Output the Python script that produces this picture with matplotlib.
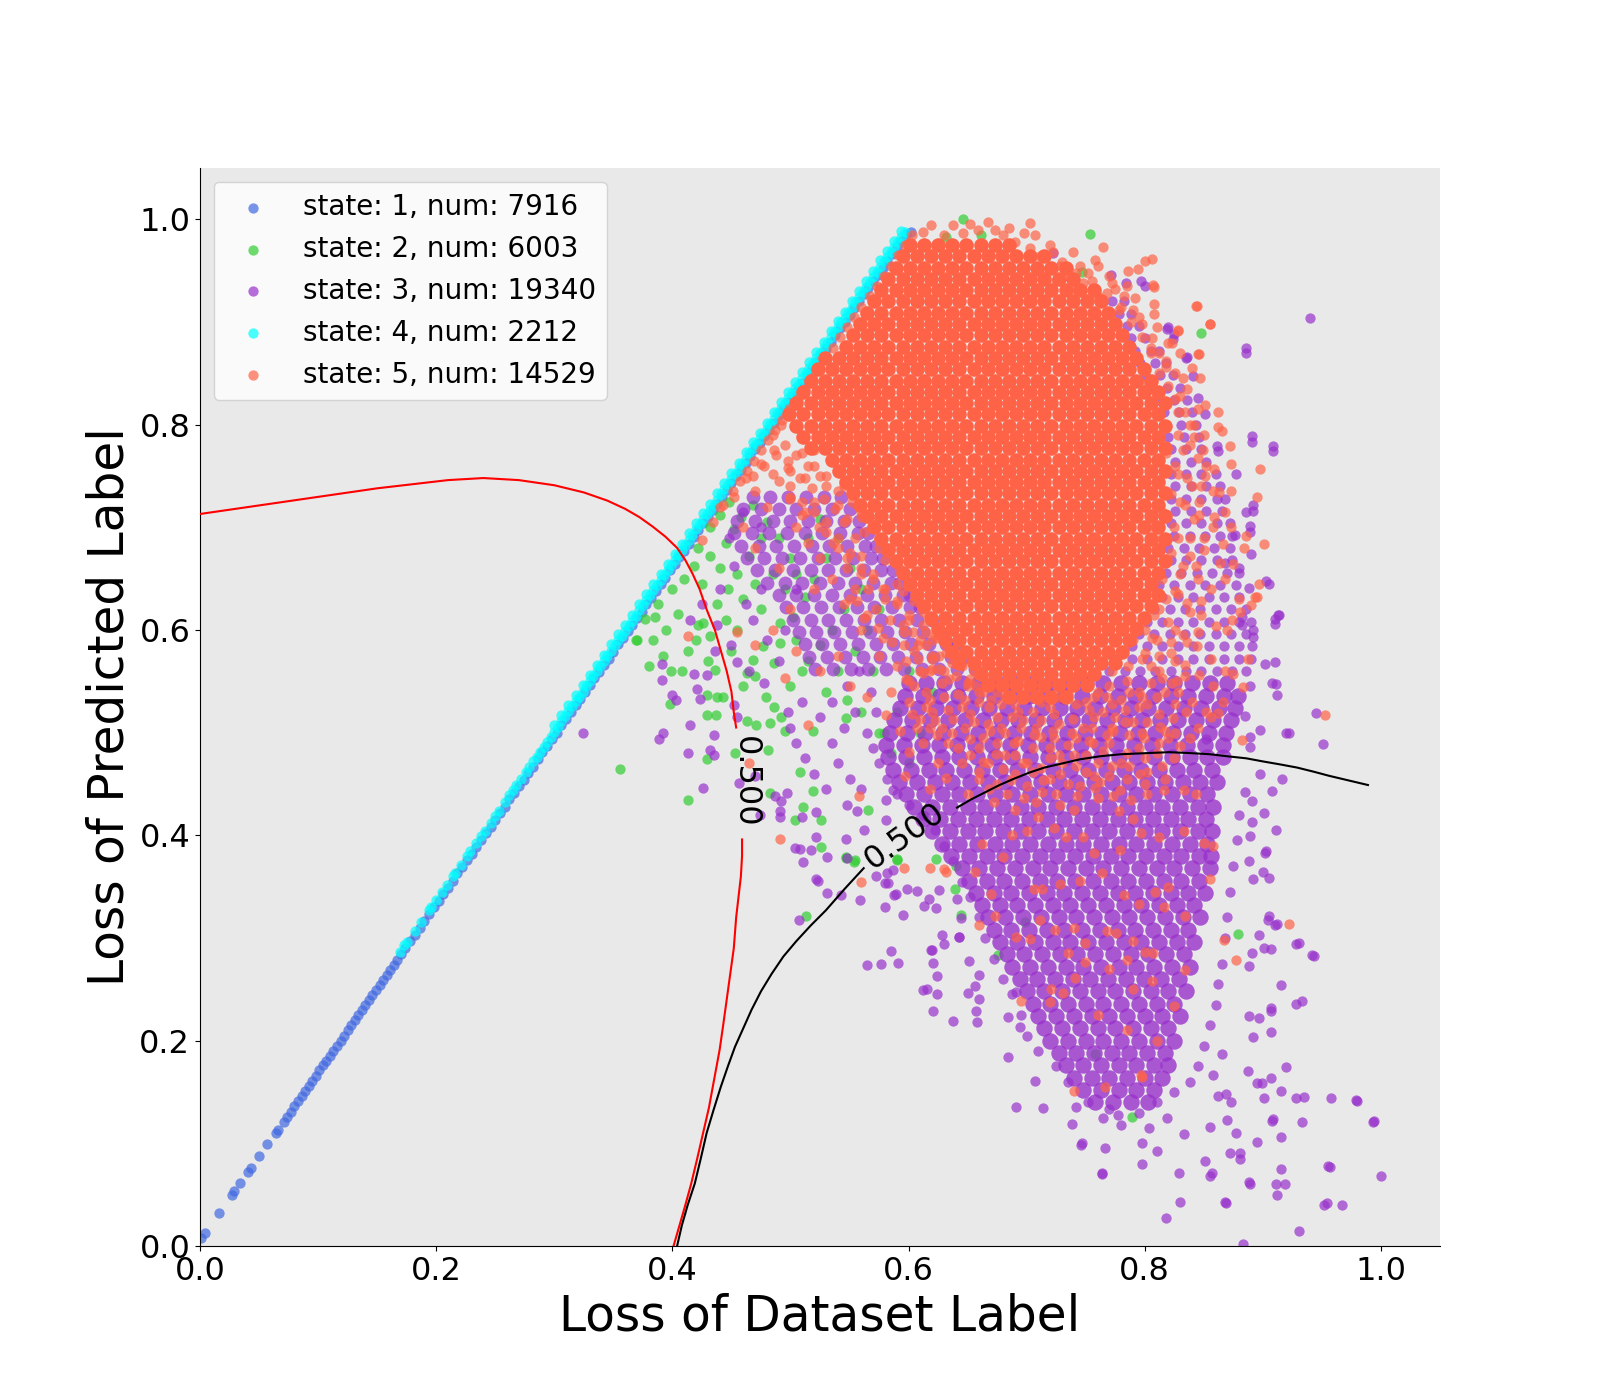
import numpy as np
import matplotlib
matplotlib.use("Agg")
import matplotlib.pyplot as plt

# ---------------- labels / colours ----------------
STATE_LABELS = ["state: 1, num: 7916", "state: 2, num: 6003", "state: 3, num: 19340",
                "state: 4, num: 2212", "state: 5, num: 14529"]
STATE_COLORS = ["royalblue", "limegreen", "darkorchid", "cyan", "tomato"]
X_LABEL = "Loss of Dataset Label"
Y_LABEL = "Loss of Predicted Label"
CONTOUR_LEVEL_TEXT = "0.500"

# ---------------- data (values in thousandths) ----------------
# state 1 (blue) points along the diagonal
BLUE_X = [1, 4, 16, 27, 29, 34, 41, 43, 50, 57, 64, 66, 71,
          74, 77, 80, 83, 86, 89, 92, 95, 98, 101, 104, 107, 110, 113, 116, 119, 122, 125, 128, 131,
          134, 137, 140, 143, 146, 149, 152, 155, 158, 161, 164, 167, 170,
          174, 178, 182, 186, 190, 194, 198, 202, 206, 210, 214, 218, 222, 226, 230, 234, 238, 242, 246, 250,
          254, 258, 262, 266, 270, 274, 278, 282, 286, 290, 294, 298, 302, 306, 310, 314, 318, 322, 326, 330,
          334, 338, 342, 346, 350, 354, 358, 362, 366, 370, 374, 378, 382, 386, 390, 394, 398, 402, 406, 410,
          414, 418, 422, 426, 430, 434, 438, 442, 446, 450, 454, 458, 462, 466, 470, 474, 478, 482, 486, 490,
          494, 498, 502, 506, 510, 514, 518, 522, 526, 530, 534, 538, 542, 546, 550, 554, 558, 562, 566, 570,
          574, 578, 582, 586, 590, 594, 598, 602]
BLUE_Y = [8, 13, 32, 50, 54, 61, 72, 76, 88, 99, 110, 113, 121,
          126, 131, 136, 141, 146, 151, 156, 161, 166, 171, 176, 180, 185, 190, 195, 200, 205, 210, 215, 220,
          225, 230, 235, 240, 244, 249, 254, 259, 264, 269, 274, 279, 284,
          290, 297, 303, 310, 317, 323, 330, 336, 343, 349, 356, 363, 369, 376, 382, 389, 395, 402, 408, 415,
          422, 428, 435, 441, 448, 454, 461, 467, 474, 481, 487, 494, 500, 507, 513, 520, 527, 533, 540, 546,
          553, 559, 566, 572, 579, 586, 592, 599, 605, 612, 618, 625, 631, 638, 645, 651, 658, 664, 671, 677,
          684, 691, 697, 704, 710, 717, 723, 730, 736, 743, 750, 756, 763, 769, 776, 782, 789, 795, 802, 809,
          815, 822, 828, 835, 841, 848, 855, 861, 868, 874, 881, 887, 894, 900, 907, 914, 920, 927, 933, 940,
          946, 953, 959, 966, 973, 979, 986, 988]

# state 4 (cyan) points along the diagonal
CYAN_X = [169, 173, 175, 182, 187, 194, 196, 200, 205, 209, 214, 216, 221, 226, 229, 234, 238, 241, 246, 250,
          253, 258, 262, 265, 268, 272, 276, 279, 282, 285, 288, 291, 294, 297,
          300, 303, 306, 309, 312, 315, 318, 321, 324, 327, 330, 333, 336, 339, 342, 345, 348, 351, 354, 357,
          360, 363, 366, 369, 372, 375, 378, 381, 384, 387, 390, 393, 396, 399, 402, 405, 408, 411, 414, 417,
          420, 423, 426, 429, 432, 435, 438, 441, 444, 447, 450, 453, 456, 459, 462, 465, 468, 471, 474, 477,
          480, 483, 486, 489, 492, 495, 498, 501, 504, 507, 510, 513, 516, 519, 522, 525, 528, 531, 534, 537,
          540, 543, 546, 549, 552, 555, 558, 561, 564, 567, 570, 573, 576, 579, 582, 585, 588, 591, 594, 597,
          300, 306, 312, 318, 324, 330, 336, 342, 348, 354, 360, 366, 372, 378, 384, 390, 396, 402, 408, 414,
          420, 426, 432, 438, 444, 450, 456, 462, 468, 474, 480, 486, 492, 498, 504, 510, 516, 522, 528, 534,
          540, 546, 552, 558, 564, 570, 576, 582, 588, 594]
CYAN_Y = [286, 293, 296, 307, 316, 327, 330, 337, 345, 352, 360, 363, 371, 380, 385, 393, 399, 404, 412, 419,
          424, 432, 439, 444, 449, 455, 462, 467, 472, 476, 481, 486, 491, 496,
          501, 506, 511, 516, 521, 526, 531, 535, 540, 545, 550, 555, 560, 565, 570, 575, 580, 585, 590, 594,
          599, 604, 609, 614, 619, 624, 629, 634, 639, 644, 649, 654, 658, 663, 668, 673, 678, 683, 688, 693,
          698, 703, 708, 713, 717, 722, 727, 732, 737, 742, 747, 752, 757, 762, 767, 772, 777, 781, 786, 791,
          796, 801, 806, 811, 816, 821, 826, 831, 836, 840, 845, 850, 855, 860, 865, 870, 875, 880, 885, 890,
          895, 900, 904, 909, 914, 919, 924, 929, 934, 939, 944, 949, 954, 959, 963, 968, 973, 978, 983, 988,
          507, 517, 527, 537, 546, 556, 566, 576, 586, 596, 605, 615, 625, 635, 645, 655, 664, 674, 684, 694,
          704, 714, 723, 733, 743, 753, 763, 773, 783, 792, 802, 812, 822, 832, 842, 851, 861, 871, 881, 891,
          901, 910, 920, 930, 940, 950, 960, 969, 979, 989]

# state 2 (green) points, flat (x, y) pairs
GREEN_PTS = [370, 590, 384, 590, 385, 613, 399, 560, 408, 560, 398, 528, 413, 580, 422, 605, 429, 537, 437, 517,
             429, 517, 438, 535, 443, 535, 436, 561, 405, 616, 356, 465, 413, 434, 429, 474, 453, 480, 481, 483,
             483, 441, 508, 462, 519, 443, 526, 415, 504, 415, 511, 428, 566, 425, 547, 378, 555, 376, 526, 389,
             471, 507, 483, 509, 492, 515, 495, 502, 519, 502, 463, 511, 479, 535, 486, 525, 468, 571, 463, 558,
             477, 584, 486, 568, 491, 587, 432, 594, 426, 607, 491, 607, 502, 613, 547, 514, 548, 532, 400, 640,
             410, 650, 418, 662, 425, 645, 432, 672, 440, 660, 445, 685, 452, 698, 438, 625, 447, 640, 455, 655,
             460, 630, 470, 645, 465, 672, 475, 690, 458, 710, 468, 722, 480, 705, 490, 690, 500, 670, 485, 655,
             495, 640, 505, 655, 512, 632, 520, 650, 530, 670, 515, 690, 525, 708, 540, 690, 550, 660, 560, 640,
             545, 620, 535, 600, 525, 585, 515, 570, 505, 590, 475, 620, 455, 600, 445, 610, 395, 600, 388, 625,
             392, 575, 380, 565, 420, 590, 430, 570, 450, 580, 460, 545, 470, 555, 500, 545, 510, 560, 530, 540,
             540, 560, 555, 580, 565, 600, 575, 620, 570, 560, 560, 520, 575, 500, 585, 480, 600, 470, 590, 520,
             610, 500, 620, 540, 600, 560, 640, 370, 590, 377, 623, 377, 579, 500, 676, 283, 699, 316, 758, 187,
             789, 126, 879, 304, 848, 889, 754, 986, 646, 1000, 661, 985, 632, 983, 747, 949, 547, 379, 554, 374,
             590, 376, 513, 321, 639, 348, 644, 322, 432, 700, 440, 712, 448, 725, 422, 680, 369, 590, 377, 611]

# state 3 (purple) dense lower cluster: row heights and x positions in each row
PURPLE_LOW_Y = [548, 536, 524, 512, 500, 488, 476, 464, 452, 440, 428, 416, 404, 392, 380, 368, 356, 344, 332,
                320, 308, 296, 284, 272, 260, 248, 236, 224, 212, 200, 188, 176, 164, 152, 140]
PURPLE_LOW_X = [
    [600, 615, 630, 645, 660, 675, 690, 705, 720, 735, 750, 765, 780, 795, 810, 825, 840, 855, 870],
    [597, 612, 627, 642, 657, 672, 687, 702, 717, 732, 747, 762, 777, 792, 807, 822, 837, 852, 867, 879],
    [593, 608, 623, 638, 653, 668, 683, 698, 713, 728, 743, 758, 773, 788, 803, 818, 833, 848, 863, 876],
    [588, 603, 618, 633, 648, 663, 678, 693, 708, 723, 738, 753, 768, 783, 798, 813, 828, 843, 858, 873],
    [584, 599, 614, 629, 644, 659, 674, 689, 704, 719, 734, 749, 764, 779, 794, 809, 824, 839, 854, 869],
    [581, 596, 611, 626, 641, 656, 671, 686, 701, 716, 731, 746, 761, 776, 791, 806, 821, 836, 851, 866],
    [583, 598, 613, 628, 643, 658, 673, 688, 703, 718, 733, 748, 763, 778, 793, 808, 823, 838, 853, 866],
    [587, 602, 617, 632, 647, 662, 677, 692, 707, 722, 737, 752, 767, 782, 797, 812, 827, 842, 857],
    [592, 607, 622, 637, 652, 667, 682, 697, 712, 727, 742, 757, 772, 787, 802, 817, 832, 847, 861],
    [598, 613, 628, 643, 658, 673, 688, 703, 718, 733, 748, 763, 778, 793, 808, 823, 838, 853],
    [605, 620, 635, 650, 665, 680, 695, 710, 725, 740, 755, 770, 785, 800, 815, 830, 845, 858],
    [612, 627, 642, 657, 672, 687, 702, 717, 732, 747, 762, 777, 792, 807, 822, 837, 852],
    [620, 635, 650, 665, 680, 695, 710, 725, 740, 755, 770, 785, 800, 815, 830, 845, 857],
    [628, 643, 658, 673, 688, 703, 718, 733, 748, 763, 778, 793, 808, 823, 838, 853],
    [636, 651, 666, 681, 696, 711, 726, 741, 756, 771, 786, 801, 816, 831, 846, 856],
    [645, 660, 675, 690, 705, 720, 735, 750, 765, 780, 795, 810, 825, 840, 855],
    [651, 666, 681, 696, 711, 726, 741, 756, 771, 786, 801, 816, 831, 846],
    [657, 672, 687, 702, 717, 732, 747, 762, 777, 792, 807, 822, 837, 851],
    [662, 677, 692, 707, 722, 737, 752, 767, 782, 797, 812, 827, 842],
    [667, 682, 697, 712, 727, 742, 757, 772, 787, 802, 817, 832, 847],
    [672, 687, 702, 717, 732, 747, 762, 777, 792, 807, 822, 837],
    [677, 692, 707, 722, 737, 752, 767, 782, 797, 812, 827, 842],
    [683, 698, 713, 728, 743, 758, 773, 788, 803, 818, 833],
    [688, 703, 718, 733, 748, 763, 778, 793, 808, 823, 838],
    [694, 709, 724, 739, 754, 769, 784, 799, 814, 829],
    [700, 715, 730, 745, 760, 775, 790, 805, 820, 835],
    [705, 720, 735, 750, 765, 780, 795, 810, 825],
    [710, 725, 740, 755, 770, 785, 800, 815, 830],
    [715, 730, 745, 760, 775, 790, 805, 820],
    [720, 735, 750, 765, 780, 795, 810, 825],
    [727, 742, 757, 772, 787, 802, 817],
    [733, 748, 763, 778, 793, 808, 820],
    [740, 755, 770, 785, 800, 815],
    [748, 763, 778, 793, 808],
    [758, 773, 788, 803],
]

# state 3 (purple) dense zone left of the orange blob
PURPLE_LEFT_Y = [730, 718, 706, 694, 682, 670, 658, 646, 634, 622, 610, 598, 586, 574, 562]
PURPLE_LEFT_X = [
    [468, 483, 498, 513, 528, 543],
    [460, 475, 490, 505, 520, 535, 550],
    [455, 470, 485, 500, 515, 530, 545, 558],
    [452, 467, 482, 497, 512, 527, 542, 557, 566],
    [458, 473, 488, 503, 518, 533, 548, 563, 572],
    [463, 478, 493, 508, 523, 538, 553, 568, 578],
    [472, 487, 502, 517, 532, 547, 562, 577, 587],
    [480, 495, 510, 525, 540, 555, 570, 585, 593],
    [490, 505, 520, 535, 550, 565, 580, 595, 601],
    [496, 511, 526, 541, 556, 571, 586, 601, 610],
    [502, 517, 532, 547, 562, 577, 592, 607, 620],
    [507, 522, 537, 552, 567, 582, 597, 612, 627],
    [512, 527, 542, 557, 572, 587, 602, 617, 632, 640],
    [516, 531, 546, 561, 576, 591, 606, 621, 636, 648],
    [521, 536, 551, 566, 581, 596, 611, 626, 641, 656],
]

# state 3 (purple) zone right of the orange blob
PURPLE_RIGHT_Y = [560, 572, 584, 596, 608, 620, 632, 644, 656, 668, 680, 692, 704, 716, 728, 740, 752, 764, 776,
                  788, 800, 812, 824, 836, 848, 860, 872, 884, 896, 908, 920]
PURPLE_RIGHT_X = [
    [770, 783, 796, 809, 822, 835, 848, 861, 874, 886],
    [776, 789, 802, 815, 828, 841, 854, 867, 880, 890],
    [789, 802, 815, 828, 841, 854, 867, 880, 891],
    [795, 808, 821, 834, 847, 860, 873, 886],
    [802, 815, 828, 841, 854, 867, 880, 890],
    [808, 821, 834, 847, 860, 873, 886],
    [815, 828, 841, 854, 867, 880],
    [812, 825, 838, 851, 864, 877],
    [818, 831, 844, 857, 870, 880],
    [822, 835, 848, 861, 874],
    [820, 833, 846, 859, 872],
    [825, 838, 851, 864, 874],
    [822, 835, 848, 861, 872],
    [826, 839, 852, 865],
    [822, 835, 848, 861, 868],
    [826, 839, 852, 864],
    [822, 835, 848, 860],
    [826, 839, 852],
    [822, 835, 848],
    [820, 833, 846],
    [818, 831, 843],
    [816, 829, 840],
    [812, 825, 836],
    [806, 819, 830],
    [800, 813, 824],
    [796, 809, 818],
    [792, 805, 812],
    [788, 800],
    [785, 795],
    [778, 788],
    [772, 782],
]

# state 3 (purple) scattered points, flat (x, y) pairs
PURPLE_PTS = [722, 967, 709, 950, 771, 946, 784, 938, 797, 940, 800, 935, 820, 895, 825, 888, 836, 866, 886, 870,
              891, 783, 909, 774, 862, 774, 892, 716, 889, 695, 910, 606, 940, 904, 886, 875, 835, 865, 819, 893,
              824, 883, 841, 847, 845, 826, 851, 810, 861, 779, 877, 752, 891, 789, 909, 779, 889, 701, 892, 722,
              886, 715, 876, 693, 890, 674, 868, 665, 880, 660, 888, 641, 903, 648, 905, 645, 910, 611, 914, 615,
              882, 613, 882, 605, 892, 600, 892, 593, 910, 569, 908, 548, 912, 537, 889, 545, 885, 516, 898, 503,
              920, 500, 945, 519, 951, 489, 889, 496, 889, 486, 852, 494,
              913, 615, 902, 567, 911, 547, 922, 500, 908, 443, 891, 413, 902, 383, 905, 358, 904, 318, 910, 313,
              907, 289, 928, 294, 943, 282, 915, 254, 933, 239, 907, 229, 892, 204, 920, 174, 928, 144, 915, 151,
              958, 144, 980, 141, 993, 121, 1000, 68, 933, 121, 909, 124, 895, 101, 881, 85, 911, 60, 889, 60,
              868, 43, 818, 27, 883, 2, 931, 15, 954, 42, 967, 40, 957, 77, 915, 75, 855, 68, 833, 109,
              798, 100, 766, 95, 747, 100, 764, 70, 738, 119,
              585, 287, 577, 275, 595, 322, 589, 343, 580, 354, 613, 331, 623, 329, 628, 303, 620, 288, 621, 276,
              624, 263, 616, 250, 624, 245, 643, 301, 650, 246, 658, 218, 660, 241, 651, 278, 660, 264, 684, 223,
              691, 247, 694, 213, 684, 184, 707, 161, 714, 134, 691, 135, 742, 135, 746, 98, 764, 71, 770, 133,
              777, 128, 798, 80, 804, 115, 810, 93, 819, 125, 829, 71, 830, 43, 855, 116, 857, 71, 851, 83,
              869, 42, 872, 91, 881, 91, 888, 62, 912, 50, 919, 60, 915, 106, 908, 122, 955, 78, 952, 40,
              994, 122, 979, 142, 935, 145, 877, 110, 870, 123, 907, 164, 899, 159, 928, 236, 942, 283, 931, 295,
              901, 290, 891, 285, 912, 314, 905, 321, 897, 303, 888, 224, 897, 222, 907, 232, 907, 208, 888, 273,
              901, 144, 895, 159, 887, 170, 873, 140, 862, 146, 858, 167, 865, 187, 869, 148, 916, 455, 901, 422,
              911, 405, 903, 385, 900, 364, 892, 357, 888, 375, 889, 399, 898, 460, 891, 433, 885, 442,
              725, 175, 735, 160, 752, 140, 765, 125, 780, 118, 795, 130, 810, 140, 825, 150, 838, 160, 845, 175,
              850, 195, 855, 215, 860, 235, 862, 255, 865, 275, 868, 300, 870, 320, 872, 345, 875, 370, 878, 395,
              880, 420, 710, 190, 700, 205, 695, 225, 688, 245, 680, 260, 672, 280, 665, 300, 660, 320, 652, 340,
              645, 355, 638, 375, 630, 390, 622, 405, 612, 420, 600, 430, 590, 440, 582, 455, 575, 470, 570, 485,
              565, 500, 572, 520, 568, 540, 555, 520, 545, 505, 535, 490, 540, 470, 550, 455, 560, 445, 548, 430,
              530, 445, 520, 460, 512, 475, 505, 490, 500, 505, 498, 520, 510, 530, 525, 515, 535, 530, 548, 545,
              558, 560,
              389, 494, 391, 551, 391, 567, 403, 532, 413, 480, 415, 507, 426, 446, 432, 483, 421, 543, 423, 533,
              429, 556, 436, 580, 455, 569, 455, 515, 456, 451, 474, 420, 492, 433, 491, 424, 497, 441, 510, 418,
              522, 423, 508, 387, 511, 374, 517, 386, 522, 357, 531, 379, 547, 396, 556, 424, 562, 405, 581, 434,
              581, 415, 587, 444, 324, 500, 565, 274, 591, 276, 612, 249, 621, 229, 638, 219, 657, 229, 617, 338,
              599, 348, 582, 363, 548, 378, 522, 398, 504, 388, 491, 418, 487, 438, 470, 458, 435, 478, 435, 498,
              452, 527, 392, 500, 400, 537, 418, 557, 523, 356, 531, 344, 543, 342, 507, 318, 559, 337, 572, 360,
              580, 330, 587, 366, 583, 354, 588, 342, 626, 347, 607, 346, 630, 294, 619, 288, 643, 301, 656, 253,
              641, 338, 644, 319, 440, 640, 452, 662, 462, 625, 475, 640, 468, 610, 480, 590, 495, 600, 505, 640,
              448, 690, 460, 715, 475, 700, 438, 605, 425, 625, 415, 610, 450, 585, 465, 560, 478, 548, 490, 570]

# state 5 (orange): solid core rows
ORANGE_CORE_Y = [975, 964, 953, 942, 931, 920, 909, 898, 887, 876, 865, 854, 843, 832, 821, 810, 799, 788, 777,
                 766, 755, 744, 733, 722, 711, 700, 689, 678, 667, 656, 645, 634, 623, 612, 601, 590, 579, 568,
                 557, 546, 535]
ORANGE_CORE_X = [
    [601, 613, 625, 637, 649, 661, 673, 685],
    [595, 607, 619, 631, 643, 655, 667, 679, 691, 703, 715],
    [589, 601, 613, 625, 637, 649, 661, 673, 685, 697, 709, 721, 733],
    [583, 595, 607, 619, 631, 643, 655, 667, 679, 691, 703, 715, 727, 739],
    [577, 589, 601, 613, 625, 637, 649, 661, 673, 685, 697, 709, 721, 733, 745, 757],
    [571, 583, 595, 607, 619, 631, 643, 655, 667, 679, 691, 703, 715, 727, 739, 751, 763],
    [565, 577, 589, 601, 613, 625, 637, 649, 661, 673, 685, 697, 709, 721, 733, 745, 757, 769],
    [559, 571, 583, 595, 607, 619, 631, 643, 655, 667, 679, 691, 703, 715, 727, 739, 751, 763, 775],
    [553, 565, 577, 589, 601, 613, 625, 637, 649, 661, 673, 685, 697, 709, 721, 733, 745, 757, 769, 781],
    [547, 559, 571, 583, 595, 607, 619, 631, 643, 655, 667, 679, 691, 703, 715, 727, 739, 751, 763, 775, 787],
    [529, 541, 553, 565, 577, 589, 601, 613, 625, 637, 649, 661, 673, 685, 697, 709, 721, 733, 745, 757, 769,
     781, 793],
    [523, 535, 547, 559, 571, 583, 595, 607, 619, 631, 643, 655, 667, 679, 691, 703, 715, 727, 739, 751, 763,
     775, 787, 799],
    [517, 529, 541, 553, 565, 577, 589, 601, 613, 625, 637, 649, 661, 673, 685, 697, 709, 721, 733, 745, 757,
     769, 781, 793, 805],
    [511, 523, 535, 547, 559, 571, 583, 595, 607, 619, 631, 643, 655, 667, 679, 691, 703, 715, 727, 739, 751,
     763, 775, 787, 799, 811],
    [505, 517, 529, 541, 553, 565, 577, 589, 601, 613, 625, 637, 649, 661, 673, 685, 697, 709, 721, 733, 745,
     757, 769, 781, 793, 805, 817],
    [499, 511, 523, 535, 547, 559, 571, 583, 595, 607, 619, 631, 643, 655, 667, 679, 691, 703, 715, 727, 739,
     751, 763, 775, 787, 799, 811],
    [505, 517, 529, 541, 553, 565, 577, 589, 601, 613, 625, 637, 649, 661, 673, 685, 697, 709, 721, 733, 745,
     757, 769, 781, 793, 805, 817],
    [511, 523, 535, 547, 559, 571, 583, 595, 607, 619, 631, 643, 655, 667, 679, 691, 703, 715, 727, 739, 751,
     763, 775, 787, 799, 811],
    [517, 529, 541, 553, 565, 577, 589, 601, 613, 625, 637, 649, 661, 673, 685, 697, 709, 721, 733, 745, 757,
     769, 781, 793, 805, 817],
    [535, 547, 559, 571, 583, 595, 607, 619, 631, 643, 655, 667, 679, 691, 703, 715, 727, 739, 751, 763, 775,
     787, 799, 811],
    [541, 553, 565, 577, 589, 601, 613, 625, 637, 649, 661, 673, 685, 697, 709, 721, 733, 745, 757, 769, 781,
     793, 805, 817],
    [547, 559, 571, 583, 595, 607, 619, 631, 643, 655, 667, 679, 691, 703, 715, 727, 739, 751, 763, 775, 787,
     799, 811],
    [553, 565, 577, 589, 601, 613, 625, 637, 649, 661, 673, 685, 697, 709, 721, 733, 745, 757, 769, 781, 793,
     805, 817],
    [559, 571, 583, 595, 607, 619, 631, 643, 655, 667, 679, 691, 703, 715, 727, 739, 751, 763, 775, 787, 799,
     811],
    [565, 577, 589, 601, 613, 625, 637, 649, 661, 673, 685, 697, 709, 721, 733, 745, 757, 769, 781, 793, 805,
     817],
    [571, 583, 595, 607, 619, 631, 643, 655, 667, 679, 691, 703, 715, 727, 739, 751, 763, 775, 787, 799, 811],
    [577, 589, 601, 613, 625, 637, 649, 661, 673, 685, 697, 709, 721, 733, 745, 757, 769, 781, 793, 805, 817],
    [583, 595, 607, 619, 631, 643, 655, 667, 679, 691, 703, 715, 727, 739, 751, 763, 775, 787, 799, 811],
    [589, 601, 613, 625, 637, 649, 661, 673, 685, 697, 709, 721, 733, 745, 757, 769, 781, 793, 805, 817],
    [595, 607, 619, 631, 643, 655, 667, 679, 691, 703, 715, 727, 739, 751, 763, 775, 787, 799, 811],
    [601, 613, 625, 637, 649, 661, 673, 685, 697, 709, 721, 733, 745, 757, 769, 781, 793, 805],
    [607, 619, 631, 643, 655, 667, 679, 691, 703, 715, 727, 739, 751, 763, 775, 787, 799, 811],
    [613, 625, 637, 649, 661, 673, 685, 697, 709, 721, 733, 745, 757, 769, 781, 793, 805],
    [619, 631, 643, 655, 667, 679, 691, 703, 715, 727, 739, 751, 763, 775, 787, 799],
    [625, 637, 649, 661, 673, 685, 697, 709, 721, 733, 745, 757, 769, 781, 793],
    [631, 643, 655, 667, 679, 691, 703, 715, 727, 739, 751, 763, 775, 787],
    [637, 649, 661, 673, 685, 697, 709, 721, 733, 745, 757, 769, 781],
    [643, 655, 667, 679, 691, 703, 715, 727, 739, 751, 763, 775],
    [661, 673, 685, 697, 709, 721, 733, 745, 757],
    [667, 679, 691, 703, 715, 727, 739, 751],
    [685, 697, 709, 721, 733],
]

# state 5 (orange) scattered points, flat (x, y) pairs
ORANGE_PTS = [603, 985, 597, 975, 591, 965, 585, 955, 579, 945, 573, 935, 567, 925, 560, 915, 554, 905, 548, 895,
              542, 885, 536, 875, 530, 865, 524, 855, 518, 845, 512, 835, 506, 825, 499, 815, 493, 805, 487, 795,
              481, 785, 475, 775, 469, 765, 463, 755, 457, 745, 451, 735, 443, 722, 434, 705, 425, 688,
              619, 994, 638, 994, 667, 997, 703, 996, 659, 990, 646, 987, 698, 987, 711, 964, 739, 968, 765, 973,
              758, 960, 786, 950, 794, 952, 800, 959, 806, 961, 808, 934, 792, 923, 844, 916, 855, 898, 846, 869,
              808, 908, 828, 891, 612, 988, 630, 985, 680, 985, 690, 978, 720, 975, 730, 958, 745, 955, 770, 945,
              775, 932, 760, 925, 748, 938, 735, 945, 715, 950, 725, 940, 780, 915, 795, 905, 810, 895, 820, 880,
              830, 870, 840, 855, 785, 935, 722, 968, 673, 990, 652, 995, 685, 992, 707, 985, 752, 948, 740, 932,
              807, 936, 843, 916, 855, 898, 845, 869, 828, 892, 823, 880, 808, 918, 847, 845, 851, 819, 862, 812,
              865, 794, 872, 779, 873, 762, 898, 757, 859, 757, 863, 734, 873, 735, 895, 730, 886, 692, 901, 684,
              884, 680, 873, 700, 859, 710, 866, 684, 897, 645, 895, 632, 890, 624, 880, 630, 887, 572, 875, 557,
              883, 544, 953, 517, 882, 493, 862, 519, 856, 515, 862, 798, 875, 664, 881, 618, 893, 632,
              812, 850, 820, 838, 826, 825, 834, 812, 816, 800, 828, 790, 838, 780, 845, 768, 818, 772, 826, 760,
              836, 748, 848, 740, 812, 745, 822, 732, 834, 722, 846, 712, 815, 715, 825, 700, 838, 690, 850, 678,
              812, 688, 822, 675, 832, 662, 845, 650, 856, 640, 815, 650, 826, 638, 836, 626, 848, 615, 860, 604,
              812, 620, 820, 608, 832, 595, 844, 584, 856, 572, 810, 590, 822, 578, 834, 566, 846, 556, 858, 545,
              805, 565, 815, 553, 828, 540, 840, 530, 852, 520, 866, 530, 870, 600, 868, 650, 858, 700, 852, 760,
              842, 800, 832, 845, 818, 862, 805, 875, 800, 840, 802, 810, 808, 700, 805, 640, 800, 600, 868, 560,
              874, 610, 864, 665, 868, 715, 858, 735, 850, 790,
              833, 444, 843, 440, 600, 481, 597, 458, 618, 445, 632, 456, 663, 471, 674, 479, 687, 454, 700, 448,
              714, 454, 728, 460, 745, 448, 762, 452, 779, 444, 796, 460, 816, 444, 830, 487, 824, 514, 813, 506,
              799, 495, 790, 510, 773, 502, 756, 490, 739, 513, 722, 502, 706, 498, 689, 490, 669, 502, 652, 494,
              638, 513, 624, 498, 610, 513, 593, 502, 581, 517, 660, 530, 675, 540, 690, 528, 705, 535, 720, 525,
              735, 538, 750, 530, 765, 520, 780, 532, 795, 525, 810, 535, 645, 525, 630, 535, 615, 540, 600, 530,
              688, 515, 712, 512, 748, 505, 770, 490, 785, 480, 740, 478, 720, 485, 700, 470, 680, 465, 660, 455,
              650, 440, 672, 432, 690, 425, 708, 432, 725, 440, 760, 470, 800, 475, 815, 468, 642, 485, 625, 470,
              612, 490, 760, 436, 778, 424, 740, 425, 802, 440, 730, 470, 755, 505, 695, 505, 675, 515, 655, 510,
              820, 495, 835, 520, 845, 505, 770, 545, 785, 550, 760, 540, 650, 545, 640, 555, 795, 540, 805, 548,
              775, 515, 705, 520, 725, 548, 740, 552, 690, 548, 665, 552,
              615, 525, 628, 548, 642, 538, 657, 545, 668, 525, 682, 535, 697, 540, 712, 530, 727, 535, 742, 528,
              757, 535, 772, 528, 787, 540, 802, 528, 817, 540, 827, 550, 607, 505, 622, 512, 637, 500, 652, 518,
              667, 508, 682, 500, 697, 512, 712, 496, 727, 508, 742, 495, 757, 515, 772, 505, 787, 498, 802, 510,
              817, 502, 660, 485, 675, 490, 690, 478, 705, 485, 720, 475, 735, 488, 750, 478, 765, 482, 780, 470,
              795, 485, 810, 480, 825, 475, 645, 470, 660, 462, 675, 450, 690, 460, 705, 462, 720, 455, 735, 450,
              750, 462, 770, 458, 785, 455, 800, 450,
              598, 552, 612, 558, 626, 562, 772, 560, 786, 565, 798, 572, 812, 560, 823, 548, 604, 598, 615, 585,
              626, 575, 637, 568, 596, 585, 608, 572, 620, 562, 634, 552, 790, 590, 800, 578, 812, 575, 822, 588,
              806, 592, 795, 605, 808, 615, 818, 630, 605, 545, 618, 532, 633, 522, 648, 532, 663, 540, 678, 528,
              693, 520, 708, 540, 723, 518, 738, 545, 753, 522, 768, 535, 783, 522, 798, 535, 812, 518, 826, 528,
              603, 518, 618, 505, 633, 490, 648, 505, 663, 495, 678, 505, 693, 492, 708, 505, 723, 495, 738, 500,
              753, 492, 768, 498, 783, 510, 798, 500, 812, 490, 826, 500, 838, 495, 652, 478, 667, 470, 682, 478,
              697, 470, 712, 466, 727, 478, 742, 468, 757, 458, 772, 468, 787, 468, 802, 462, 817, 455, 668, 445,
              683, 440, 698, 436, 713, 442, 728, 430, 743, 438, 758, 446, 773, 438, 788, 434,
              826, 850, 830, 828, 836, 835, 828, 812, 838, 800, 832, 775, 842, 788, 828, 752, 840, 740, 830, 725,
              842, 708, 828, 690, 838, 672, 830, 655, 843, 662, 828, 635, 838, 618, 826, 600, 836, 588, 826, 570,
              834, 555, 845, 598, 848, 628, 850, 690, 846, 725, 851, 750, 849, 775, 845, 815,
              760, 955, 772, 938, 782, 925, 790, 912, 798, 898, 806, 884, 812, 870, 818, 856, 703, 972, 715, 965,
              728, 955, 742, 948, 755, 940, 768, 928, 778, 912, 788, 900, 798, 885, 805, 870,
              578, 640, 590, 628, 600, 615, 612, 605, 622, 595, 632, 578, 642, 566, 652, 552, 560, 655, 548, 670,
              536, 685, 524, 700, 512, 715, 500, 728, 566, 640, 556, 628, 572, 620, 584, 610, 596, 598, 608, 585,
              620, 572, 598, 570, 610, 560, 586, 588, 574, 602, 562, 612, 550, 630,
              850, 393, 858, 390, 855, 357, 834, 321, 833, 404, 812, 398, 797, 402, 790, 416, 779, 386, 757, 383,
              748, 398, 733, 398, 723, 407, 710, 418, 700, 404, 688, 400, 680, 379, 662, 392, 656, 364, 632, 364,
              618, 368, 596, 368, 673, 321, 670, 343, 706, 348, 713, 348, 728, 353, 745, 356, 764, 363, 782, 342,
              795, 333, 809, 345, 816, 330, 820, 350, 740, 310, 749, 295, 724, 308, 711, 318, 703, 299, 691, 301,
              768, 307, 776, 305, 790, 297, 785, 279, 800, 286, 807, 285, 560, 355, 630, 367,
              922, 314, 867, 298, 877, 279, 834, 269, 825, 234, 806, 258, 798, 165, 766, 155, 731, 246, 721, 250,
              720, 238, 741, 261, 749, 277, 740, 151, 797, 167, 695, 239, 660, 313, 491, 396, 465, 470, 558, 438,
              785, 210, 760, 225, 810, 200, 770, 270, 735, 285, 790, 250,
              413, 594, 455, 598, 495, 553, 515, 507, 470, 735, 480, 720, 490, 745, 500, 730, 510, 712, 520, 725,
              530, 740, 505, 700, 515, 685, 530, 695, 545, 705, 540, 680, 555, 690, 525, 670, 548, 660, 560, 672,
              535, 650, 555, 640, 570, 655, 545, 625, 565, 615, 580, 630, 560, 600, 578, 592, 595, 605, 575, 575,
              590, 565, 605, 580, 600, 550, 618, 560, 620, 590, 610, 625, 590, 645, 575, 680, 560, 710, 540, 722,
              512, 748, 498, 765, 486, 775, 478, 760, 462, 748, 452, 730, 520, 640, 500, 620, 485, 600, 470, 585,
              490, 660, 470, 680, 460, 700, 440, 720, 505, 580, 525, 560, 540, 575, 550, 545, 565, 535, 585, 540,
              620, 520, 628, 505, 495, 780, 505, 770, 515, 760, 525, 750, 500, 755, 520, 775, 535, 765, 545, 740,
              485, 790, 492, 800,
              488, 770, 498, 758, 508, 748, 518, 738, 528, 728, 538, 718, 548, 708, 530, 750, 520, 760, 510, 772,
              540, 735, 552, 725, 560, 715, 570, 705, 562, 695, 575, 690, 585, 680, 580, 668, 592, 660, 600, 650,
              595, 638, 605, 628, 612, 618, 620, 608, 615, 598, 625, 592, 632, 585, 640, 575, 645, 565, 655, 560,
              650, 548, 660, 540, 670, 532, 630, 560, 620, 575, 610, 590, 600, 610, 590, 625, 580, 640, 570, 650,
              560, 660, 550, 675, 540, 690, 530, 705, 520, 715, 510, 725, 500, 740, 485, 752, 475, 762, 468, 750]

# 0.5 decision contours (two curves, each split where its label sits)
RED_A_X = [0, 30, 60, 90, 120, 150, 180, 210, 240, 270, 300, 325, 345, 360, 372, 383, 394, 404, 411, 417, 423,
           429, 436, 441, 446, 450, 452, 454]
RED_A_Y = [713, 718, 723, 728, 733, 738, 742, 746, 748, 746, 741, 734, 726, 718, 710, 701, 691, 680, 668, 655,
           640, 620, 600, 580, 560, 540, 520, 505]
RED_B_X = [459, 459, 458, 456, 454, 452, 449, 446, 443, 440, 435, 431, 426, 421, 416, 411, 406, 401]
RED_B_Y = [396, 380, 360, 340, 320, 290, 265, 240, 215, 191, 160, 135, 110, 85, 61, 40, 20, 0]
BLACK_C_X = [404, 408, 413, 419, 424, 429, 435, 441, 447, 453, 460, 467, 475, 484, 494, 505, 517, 530, 546, 562]
BLACK_C_Y = [0, 20, 40, 61, 85, 110, 133, 155, 175, 194, 212, 230, 248, 265, 282, 297, 312, 327, 348, 368]
BLACK_D_X = [641, 653, 665, 677, 689, 702, 715, 730, 745, 762, 780, 800, 821, 840, 855, 870, 886, 900, 915, 929,
             943, 956, 967, 978, 989]
BLACK_D_Y = [427, 435, 442, 449, 455, 461, 466, 470, 474, 477, 479, 480, 481, 480, 479, 477, 475, 472, 469, 466,
             462, 458, 455, 452, 449]
RED_LABEL_POS = (462, 452)
BLACK_LABEL_POS = (597, 399)


def xy_lists(xs, ys):
    n = min(len(xs), len(ys))
    return np.asarray(xs[:n], float) / 1000.0, np.asarray(ys[:n], float) / 1000.0


def xy_pairs(flat):
    a = np.asarray(flat[: len(flat) // 2 * 2], float).reshape(-1, 2) / 1000.0
    return a[:, 0], a[:, 1]


def xy_rows(row_y, row_x):
    xs, ys = [], []
    for y, row in zip(row_y, row_x):
        xs.extend(row)
        ys.extend([y] * len(row))
    return np.asarray(xs, float) / 1000.0, np.asarray(ys, float) / 1000.0


fig = plt.figure(figsize=(16, 14), dpi=100)
ax = fig.add_subplot(111)
ax.set_facecolor("#e9e9e9")

S = 55
A = 0.7

bx, by = xy_lists(BLUE_X, BLUE_Y)
ax.scatter(bx, by, s=S, color=STATE_COLORS[0], alpha=A, linewidths=0, label=STATE_LABELS[0], zorder=2)

gx, gy = xy_pairs(GREEN_PTS)
ax.scatter(gx, gy, s=S, color=STATE_COLORS[1], alpha=A, linewidths=0, label=STATE_LABELS[1], zorder=2)

plx, ply = xy_rows(PURPLE_LOW_Y, PURPLE_LOW_X)
ax.scatter(plx, ply, s=140, color=STATE_COLORS[2], alpha=0.8, linewidths=0, zorder=2)
pfx, pfy = xy_rows(PURPLE_LEFT_Y, PURPLE_LEFT_X)
ax.scatter(pfx, pfy, s=100, color=STATE_COLORS[2], alpha=A, linewidths=0, zorder=2)
prx, pry = xy_rows(PURPLE_RIGHT_Y, PURPLE_RIGHT_X)
ax.scatter(prx, pry, s=S, color=STATE_COLORS[2], alpha=A, linewidths=0, zorder=2)
px, py = xy_pairs(PURPLE_PTS)
ax.scatter(px, py, s=S, color=STATE_COLORS[2], alpha=A, linewidths=0, label=STATE_LABELS[2], zorder=2)

cx, cy = xy_lists(CYAN_X, CYAN_Y)
ax.scatter(cx, cy, s=S, color=STATE_COLORS[3], alpha=A, linewidths=0, label=STATE_LABELS[3], zorder=2)

ocx, ocy = xy_rows(ORANGE_CORE_Y, ORANGE_CORE_X)
ax.scatter(ocx, ocy, s=110, color=STATE_COLORS[4], alpha=1.0, linewidths=0, zorder=2)
ox, oy = xy_pairs(ORANGE_PTS)
ax.scatter(ox, oy, s=S, color=STATE_COLORS[4], alpha=A, linewidths=0, label=STATE_LABELS[4], zorder=2)

for xs, ys, col in [(RED_A_X, RED_A_Y, "red"), (RED_B_X, RED_B_Y, "red"),
                    (BLACK_C_X, BLACK_C_Y, "black"), (BLACK_D_X, BLACK_D_Y, "black")]:
    lx, ly = xy_lists(xs, ys)
    ax.plot(lx, ly, color=col, linewidth=1.5, zorder=3)

ax.text(RED_LABEL_POS[0] / 1000, RED_LABEL_POS[1] / 1000, CONTOUR_LEVEL_TEXT, fontsize=23,
        rotation=-90, ha="center", va="center", rotation_mode="anchor", zorder=4)
ax.text(BLACK_LABEL_POS[0] / 1000, BLACK_LABEL_POS[1] / 1000, CONTOUR_LEVEL_TEXT, fontsize=23,
        rotation=36, ha="center", va="center", rotation_mode="anchor", zorder=4)

ax.set_xlim(0, 1.05)
ax.set_ylim(0, 1.05)
ax.spines["top"].set_visible(False)
ax.spines["right"].set_visible(False)
ax.tick_params(labelsize=23)
ax.set_xlabel(X_LABEL, fontsize=35)
ax.set_ylabel(Y_LABEL, fontsize=35)
ax.legend(loc="upper left", fontsize=20)

fig.savefig("out.png", dpi=100)
